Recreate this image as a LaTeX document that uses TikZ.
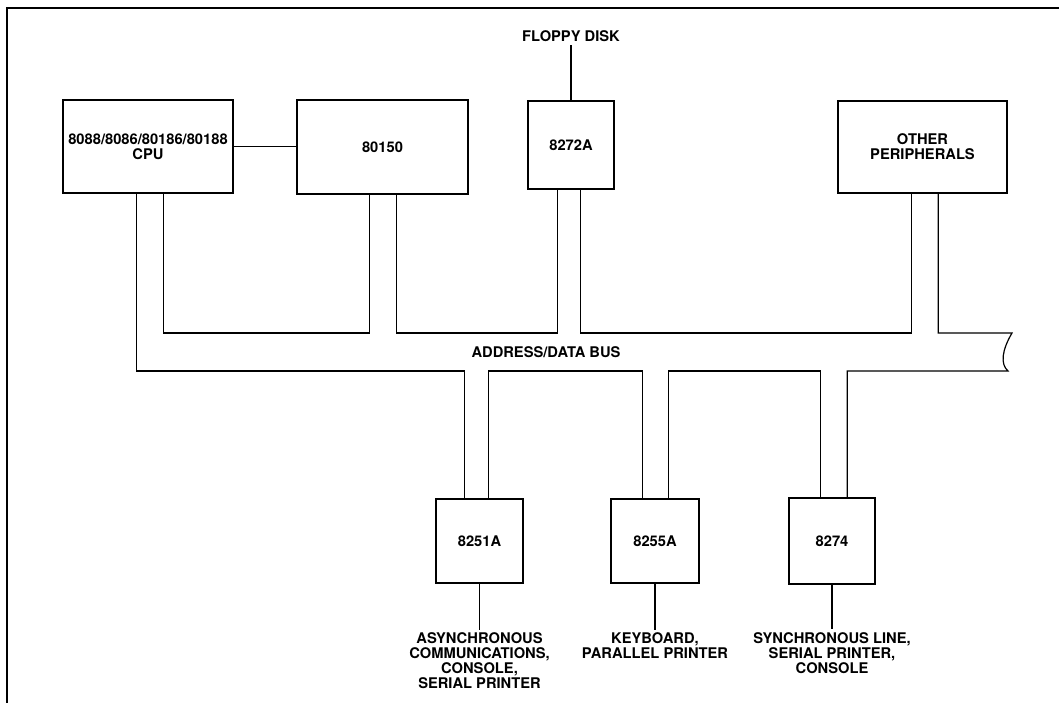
\documentclass[tikz,border=0pt]{standalone}
\usepackage{fontspec}
\setmainfont{TeX Gyre Heros}
\begin{document}
\begin{tikzpicture}[x=1pt,y=-1pt,
  txt/.style={font=\bfseries\fontsize{14.7}{15}\selectfont,align=center},
  box/.style={txt,draw,line width=1.7pt,inner sep=0pt},
  lbl/.style={txt,inner sep=0pt},
  bus/.style={line width=1.2pt},
  frame/.style={line width=2pt}]
\useasboundingbox (0,0) rectangle (1059,703);
\draw[frame] (7,703) -- (7,8) -- (1059,8);

% boxes
\node[box,minimum width=170pt,minimum height=93pt] (cpu) at (148,146.5) {8088/8086/80186/80188\\CPU};
\node[box,minimum width=171pt,minimum height=94pt] (p150) at (382.5,147) {80150};
\node[box,minimum width=86pt,minimum height=88pt] (fdc) at (571,145) {8272A};
\node[box,minimum width=169pt,minimum height=92pt] (oth) at (922.5,147) {OTHER\\PERIPHERALS};
\node[box,minimum width=87pt,minimum height=84pt] (u51) at (479.5,541) {8251A};
\node[box,minimum width=88pt,minimum height=84pt] (u55) at (655,541) {8255A};
\node[box,minimum width=86pt,minimum height=86pt] (u74) at (832,541) {8274};

% texts
\node[lbl] (floppy) at (571,36) {FLOPPY DISK};
\node[lbl] (busname) at (546,352) {ADDRESS/DATA BUS};
\node[lbl,anchor=north] (l51) at (479.5,632) {ASYNCHRONOUS\\COMMUNICATIONS,\\CONSOLE,\\SERIAL PRINTER};
\node[lbl,anchor=north] (l55) at (655,632) {KEYBOARD,\\PARALLEL PRINTER};
\node[lbl,anchor=north] (l74) at (832,632) {SYNCHRONOUS LINE,\\SERIAL PRINTER,\\CONSOLE};

% simple connectors
\draw[bus] (cpu.east) -- (p150.west |- cpu.east);
\draw[bus,shorten >=3pt] (fdc.north) -- (fdc.north |- floppy.south);
\draw[bus,shorten >=2pt] (u51.south) -- (u51.south |- l51.north);
\draw[bus,shorten >=2pt] (u55.south) -- (u55.south |- l55.north);
\draw[bus,shorten >=3pt] (u74.south) -- (u74.south |- l74.north);

% bus attachment points
\coordinate (busA) at (0,333);
\coordinate (busB) at (0,371);
\coordinate (cpuA) at ([xshift=74pt]cpu.south west);
\coordinate (cpuB) at ([xshift=101pt]cpu.south west);
\coordinate (pA) at ([xshift=73pt]p150.south west);
\coordinate (pB) at ([xshift=100pt]p150.south west);
\coordinate (fA) at ([xshift=30pt]fdc.south west);
\coordinate (fB) at ([xshift=53pt]fdc.south west);
\coordinate (oA) at ([xshift=74pt]oth.south west);
\coordinate (oB) at ([xshift=101pt]oth.south west);
\coordinate (a51) at ([xshift=29pt]u51.north west);
\coordinate (b51) at ([xshift=53pt]u51.north west);
\coordinate (a55) at ([xshift=32pt]u55.north west);
\coordinate (b55) at ([xshift=58pt]u55.north west);
\coordinate (a74) at ([xshift=32pt]u74.north west);
\coordinate (b74) at ([xshift=59pt]u74.north west);
\coordinate (sqB) at (1008,371);
\coordinate (sqT) at (1012,333);

% upper bus edge
\draw[bus] (cpuB) |- (pA |- busA) -- (pA);
\draw[bus] (pB) |- (fA |- busA) -- (fA);
\draw[bus] (fB) |- (oA |- busA) -- (oA);
% lower bus edge
\draw[bus] (cpuA) |- (a51 |- busB) -- (a51);
\draw[bus] (b51) |- (a55 |- busB) -- (a55);
\draw[bus] (b55) |- (a74 |- busB) -- (a74);
\draw[bus] (b74) |- (sqB) .. controls (1000,364) and (1002,350) .. (sqT) -| (oB);
\end{tikzpicture}
\end{document}
